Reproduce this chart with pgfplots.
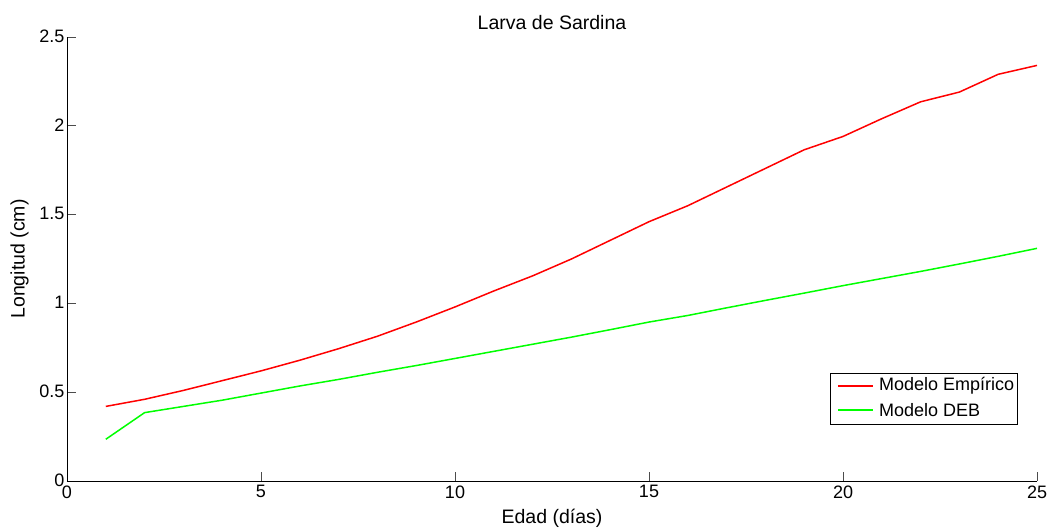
\documentclass[border=0pt]{standalone}
\usepackage{fontspec}
\setmainfont{Liberation Sans}
\usepackage{pgfplots}
\pgfplotsset{compat=1.18}
\definecolor{mred}{RGB}{255,0,0}
\definecolor{mgreen}{RGB}{0,255,0}
\begin{document}
\begin{tikzpicture}
\begin{axis}[
  scale only axis,
  width=970pt, height=444pt,
  xmin=0, xmax=25, ymin=0, ymax=2.5,
  axis lines=left,
  axis line style={-, black, line width=0.8pt},
  xtick={0,5,10,15,20,25},
  ytick={0,0.5,1,1.5,2,2.5},
  tick align=inside,
  major tick length=9pt,
  tick style={black!70, line width=0.8pt},
  /pgf/number format/assume math mode=true,
  xticklabel style={font=\fontsize{18pt}{20pt}\selectfont, yshift=-1pt},
  yticklabel style={font=\fontsize{18pt}{20pt}\selectfont, xshift=1pt, yshift=1pt},
  title={Larva de Sardina},
  title style={font=\fontsize{19.5pt}{22pt}\selectfont, yshift=-2pt},
  xlabel={Edad (días)},
  ylabel={Longitud (cm)},
  label style={font=\fontsize{19.5pt}{22pt}\selectfont},
  xlabel style={yshift=-4pt},
  ylabel style={yshift=4pt},
  clip=false,
]
\addplot[mred, line width=1.5pt] coordinates {
(1,0.42) (2,0.46) (3,0.51) (4,0.565) (5,0.62) (6,0.68) (7,0.745) (8,0.815) (9,0.895) (10,0.98)
(11,1.07) (12,1.155) (13,1.25) (14,1.355) (15,1.46) (16,1.55) (17,1.655) (18,1.76) (19,1.865)
(20,1.94) (21,2.04) (22,2.135) (23,2.19) (24,2.29) (25,2.34)};
\addplot[mgreen, line width=1.5pt] coordinates {
(1,0.235) (2,0.385) (3,0.42) (4,0.455) (5,0.495) (6,0.535) (7,0.572) (8,0.612) (9,0.65) (10,0.69)
(11,0.73) (12,0.77) (13,0.81) (14,0.852) (15,0.895) (16,0.932) (17,0.975) (18,1.017) (19,1.058)
(20,1.10) (21,1.14) (22,1.18) (23,1.222) (24,1.265) (25,1.31)};
% legend
\draw[black, line width=0.8pt, fill=white] (rel axis cs:0.7866,0.1284) rectangle (rel axis cs:0.9794,0.2432);
\draw[mred, line width=1.5pt] (rel axis cs:0.7948,0.214) -- (rel axis cs:0.8309,0.214);
\draw[mgreen, line width=1.5pt] (rel axis cs:0.7948,0.160) -- (rel axis cs:0.8309,0.160);
\node[anchor=west, inner sep=0pt, font=\fontsize{18pt}{20pt}\selectfont] at (rel axis cs:0.837,0.214) {Modelo Empírico};
\node[anchor=west, inner sep=0pt, font=\fontsize{18pt}{20pt}\selectfont] at (rel axis cs:0.837,0.160) {Modelo DEB};
\end{axis}
\pgfresetboundingbox
\path[use as bounding box] ([shift={(-67pt,-46pt)}]current axis.south west) rectangle ([shift={(16pt,37pt)}]current axis.north east);
\end{tikzpicture}
\end{document}
